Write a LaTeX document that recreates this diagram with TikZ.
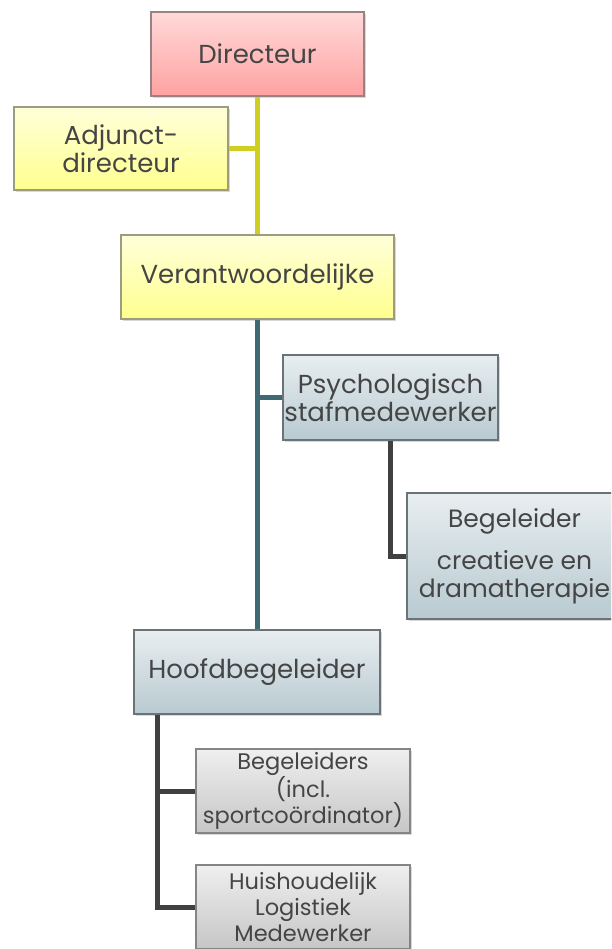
\documentclass[tikz,border=0pt]{standalone}
\usepackage{fontspec}
\setmainfont{Poppins}
\usetikzlibrary{shadows,calc}
\definecolor{txt}{HTML}{454545}
\definecolor{pinkT}{HTML}{FFD9D9}
\definecolor{pinkB}{HTML}{FFA2A2}
\definecolor{pinkD}{HTML}{9A8282}
\definecolor{yelT}{HTML}{FFFFDA}
\definecolor{yelB}{HTML}{FFFF8E}
\definecolor{yelD}{HTML}{9C9C80}
\definecolor{bluT}{HTML}{E8EEF0}
\definecolor{bluB}{HTML}{B8CAD1}
\definecolor{bluD}{HTML}{6A7478}
\definecolor{gryT}{HTML}{EFEFEF}
\definecolor{gryB}{HTML}{C6C6C6}
\definecolor{gryD}{HTML}{858585}
\definecolor{yline}{HTML}{CFCF22}
\definecolor{tline}{HTML}{3F6A74}
\definecolor{dline}{HTML}{404040}
\tikzset{
  box/.style={line width=1.2pt, inner sep=0pt, align=center, text=txt,
    font=\fontsize{26}{28}\selectfont,
    drop shadow={opacity=0.3, shadow xshift=1.5pt, shadow yshift=-2pt}},
  smallbox/.style={box, font=\fontsize{22.5}{26.5}\selectfont},
  pinkbox/.style={box, draw=pinkD, top color=pinkT, bottom color=pinkB},
  yelbox/.style={box, draw=yelD, top color=yelT, bottom color=yelB},
  bluebox/.style={box, draw=bluD, top color=bluT, bottom color=bluB},
  graybox/.style={smallbox, draw=gryD, top color=gryT, bottom color=gryB},
  yconn/.style={draw=yline, line width=5pt},
  tconn/.style={draw=tline, line width=5pt},
  dconn/.style={draw=dline, line width=5pt},
}
\begin{document}
\begin{tikzpicture}[x=1pt,y=-1pt]
\useasboundingbox (0,0) rectangle (611,949);
\clip (0,0) rectangle (611,949);
\fill[white] (0,0) rectangle (611,949);
\node[pinkbox, minimum width=213pt, minimum height=84pt] (dir) at (257.5,54) {Directeur};
\node[yelbox, minimum width=214pt, minimum height=83pt] (adj) at (121,148.5) {Adjunct-\\directeur};
\node[yelbox, minimum width=273pt, minimum height=84pt] (ver) at (257.5,277) {Verantwoordelijke};
\node[bluebox, minimum width=215pt, minimum height=85pt] (psy) at (390.5,397.5) {Psychologisch\\stafmedewerker};
\node[bluebox, minimum width=215pt, minimum height=126pt, font=\fontsize{25}{28}\selectfont] (cre) at (514.5,556) {Begeleider\\[14pt]creatieve en\\dramatherapie};
\node[bluebox, minimum width=246pt, minimum height=84pt] (hfd) at (257,672) {Hoofdbegeleider};
\node[graybox, minimum width=214pt, minimum height=84pt] (beg) at (303,791) {Begeleiders\\(incl.\\sportcoördinator)};
\node[graybox, minimum width=214pt, minimum height=84pt, font=\fontsize{22.5}{26}\selectfont] (hui) at (303,907) {Huishoudelijk\\Logistiek\\Medewerker};
\draw[yconn] (dir.south) -- (dir.south |- ver.north);
\draw[yconn] (adj.east) -- (adj.east -| dir.south);
\draw[tconn] (ver.south) -- (ver.south |- hfd.north);
\draw[tconn] (psy.west) -- (psy.west -| ver.south);
\draw[dconn] (psy.south) |- (cre.west);
\coordinate (hb) at ($(hfd.south west)+(24,0)$);
\draw[dconn] (hb) |- (beg.west);
\draw[dconn] (hb) |- (hui.west);
\end{tikzpicture}
\end{document}
